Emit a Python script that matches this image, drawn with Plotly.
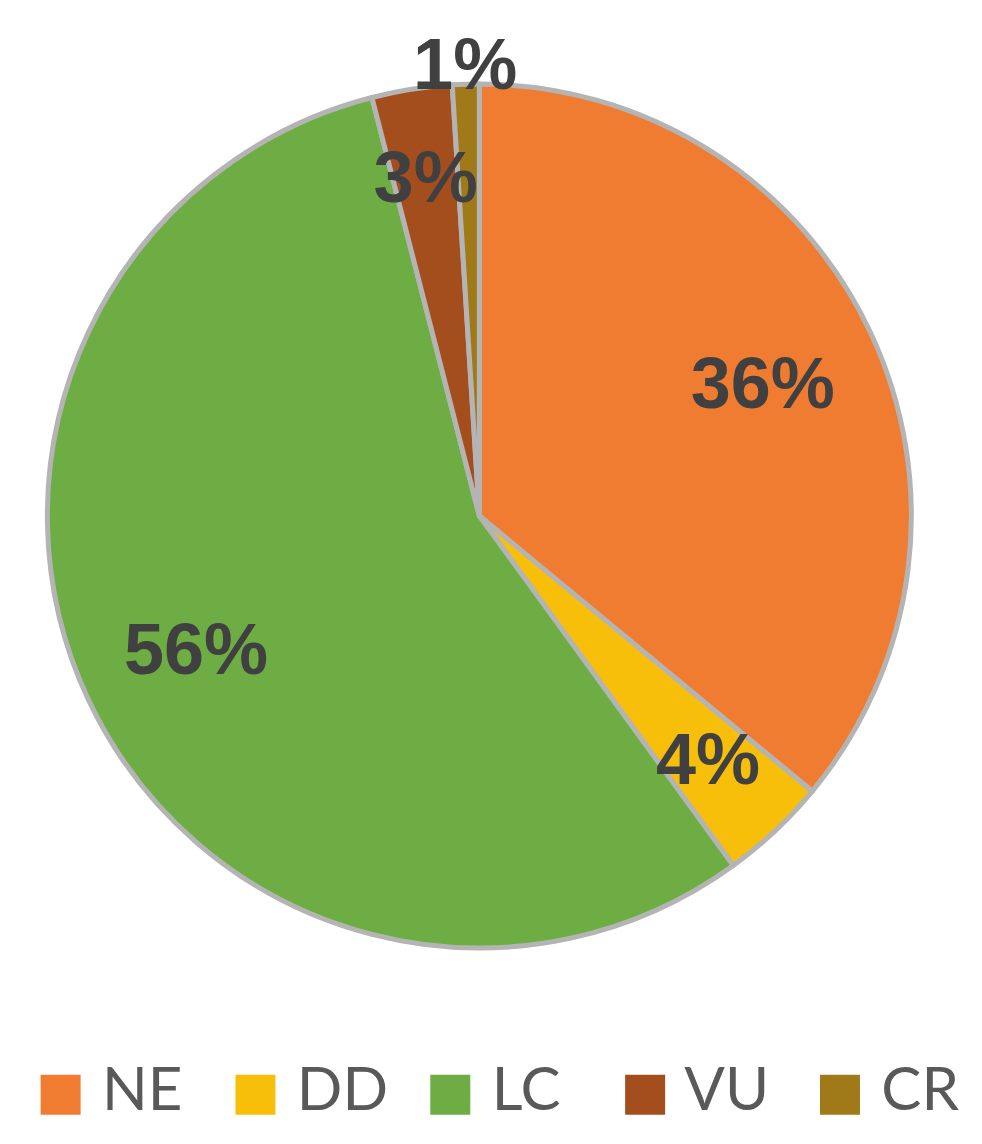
import plotly.graph_objects as go

# IUCN status shares (percent)
categories = ["NE", "DD", "LC", "VU", "CR"]
shares = [36, 4, 56, 3, 1]
colors = ["#F07C32", "#F7BF0A", "#6DAD44", "#A44E1E", "#A07A18"]

total = sum(shares)
pct_text = [f"{round(100 * v / total)}%" for v in shares]
# which ring carries each label: big slices mid-ring, thin slices further out, CR above the pie
ring_of = ["mid", "thin", "mid", "thin", "top"]

cx, cy = 0.48, 0.556           # pie centre (paper fraction)
hx, hy = 0.44, 0.3776          # half size of the pie box


def box(scale):
    return dict(x=[max(0, cx - hx * scale), min(1, cx + hx * scale)],
                y=[max(0, cy - hy * scale), min(1, cy + hy * scale)])


label_font = dict(family="Liberation Sans", size=72, color="#404040", weight="bold")
clear = ["rgba(0,0,0,0)"] * len(categories)

fig = go.Figure()

# filled slices, no text
fig.add_trace(go.Pie(
    labels=categories, values=shares, sort=False, direction="clockwise",
    marker=dict(colors=colors, line=dict(color="#B4B4B4", width=5)),
    textinfo="none", showlegend=False, domain=box(1.0),
    hoverinfo="label+percent",
))

# transparent rings that only carry the percent labels
for ring, hole, scale in [("mid", 0.45, 1.0), ("thin", 0.3, 0.87), ("top", 0.9, 1.08)]:
    fig.add_trace(go.Pie(
        labels=categories, values=shares, sort=False, direction="clockwise", hole=hole,
        marker=dict(colors=clear, line=dict(width=0)),
        text=[t if r == ring else "" for t, r in zip(pct_text, ring_of)],
        textinfo="text", textposition="inside",
        insidetextorientation="horizontal",
        textfont=label_font,
        showlegend=False, domain=box(scale), hoverinfo="skip",
    ))

# legend drawn as a row of big square markers
fig.add_trace(go.Scatter(
    x=list(range(len(categories))),
    y=[0] * len(categories),
    mode="markers+text",
    marker=dict(symbol="square", size=40, color=colors),
    text=["\u00a0" + c for c in categories],
    textposition="middle right",
    textfont=dict(family="Lato", size=60, color="#595959"),
    showlegend=False,
    hoverinfo="skip",
    cliponaxis=False,
))

fig.update_layout(
    width=982,
    height=1144,
    margin=dict(l=0, r=0, t=0, b=0),
    paper_bgcolor="white",
    plot_bgcolor="white",
    uniformtext=dict(minsize=72, mode="show"),
    xaxis=dict(range=[-0.27, 4.77], visible=False, domain=[0, 1]),
    yaxis=dict(range=[-1, 1], visible=False, domain=[0, 0.1]),
)

fig.write_html("out.html")
